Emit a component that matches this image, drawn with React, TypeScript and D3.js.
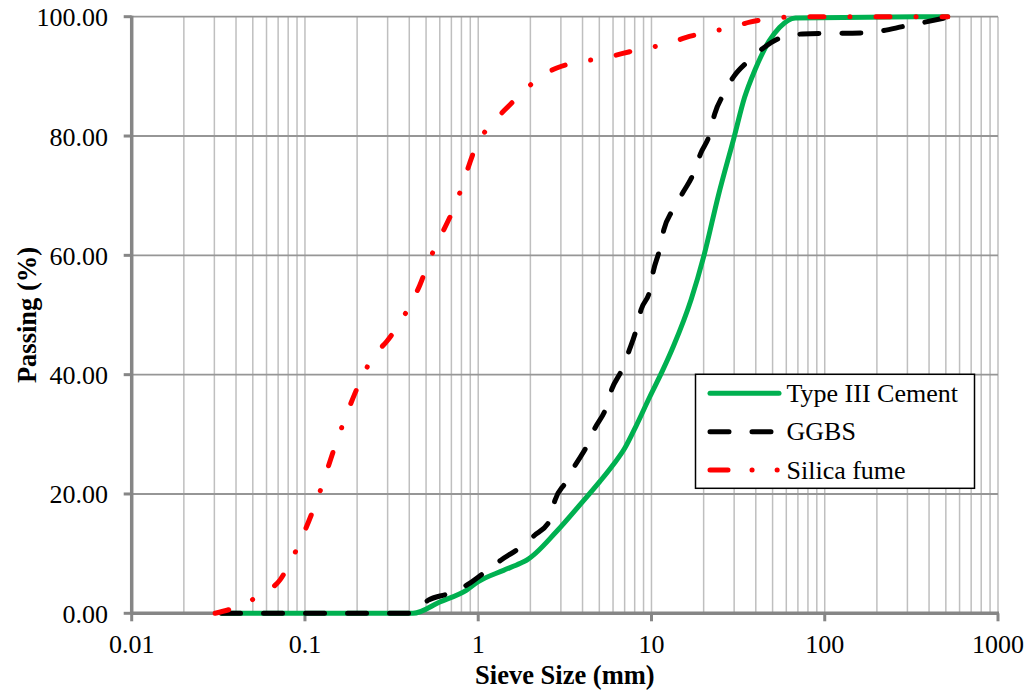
import React from "react";
import * as d3 from "d3";

const xTicks = [0.01, 0.1, 1, 10, 100, 1000];
const xTickLabels = ["0.01", "0.1", "1", "10", "100", "1000"];
const yTicks = [0, 20, 40, 60, 80, 100];
const yTickLabels = ["0.00", "20.00", "40.00", "60.00", "80.00", "100.00"];

const seriesNames = ["Type III Cement", "GGBS", "Silica fume"];

const cementSize = [0.033, 0.42, 0.6, 0.857, 1.0, 1.4, 1.75, 1.9, 2.83, 3.95, 5.04, 6.01, 7.02, 8.12, 9.78, 11.51, 13.4, 16.94, 20.1, 24.26, 29.92, 34.4, 39.6, 47.7, 54.8, 67.7, 513];
const cementPassing = [0, 0, 1.9, 3.9, 5.3, 7.2, 8.4, 8.9, 13.7, 18.5, 22.1, 24.9, 27.7, 31.3, 36.3, 40.5, 44.8, 52.6, 60.0, 69.9, 79.7, 86.4, 91.1, 95.9, 98.2, 99.8, 100];

const ggbsSize = [0.033, 0.41, 0.515, 0.671, 0.866, 1.069, 1.35, 1.7, 2.1, 2.59, 2.77, 3.19, 3.64, 4.23, 4.71, 5.46, 5.91, 6.74, 7.4, 8.12, 8.71, 9.79, 10.24, 11.15, 11.79, 13.24, 15.24, 17.52, 19.23, 21.61, 23.16, 26.03, 29.89, 36.0, 44.5, 56.2, 74.3, 172, 300, 513];
const ggbsPassing = [0, 0, 2.2, 3.3, 4.8, 6.7, 8.9, 10.8, 13.0, 15.6, 18.9, 21.9, 24.9, 28.0, 31, 34.4, 37.6, 40.8, 43.9, 47.3, 50.9, 54.2, 57.3, 61.0, 64.3, 67.6, 70.6, 73.8, 77.1, 80.2, 83.7, 87, 90, 92.5, 94.8, 96.5, 97.1, 97.3, 98.5, 99.9];

const silicaSize = [0.0303, 0.044, 0.0573, 0.0718, 0.083, 0.117, 0.155, 0.214, 0.247, 0.297, 0.353, 0.41, 0.46, 0.513, 0.743, 1.0, 1.2, 1.45, 1.8, 2.25, 2.84, 3.86, 5.17, 6.74, 9.03, 12.1, 15.7, 21.1, 28.6, 36.9, 50, 70, 513];
const silicaPassing = [0, 1.5, 3.4, 5.6, 8.8, 18.9, 29.4, 39.6, 43, 45.6, 48.7, 52, 55, 58.6, 68.7, 79, 82.1, 84.6, 87.3, 89.8, 91.4, 92.45, 93.0, 93.8, 94.7, 95.35, 96.5, 97.4, 98.15, 99.1, 99.7, 100, 100];

const W = 1032;
const H = 693;
const left = 131.7;
const right = 998;
const top = 16.7;
const bottom = 613.3;
const FONT = "'Liberation Serif', 'Times New Roman', serif";

export default function App() {
  const x = d3.scaleLog().domain([0.01, 1000]).range([left, right]);
  const y = d3.scaleLinear().domain([0, 100]).range([bottom, top]);

  const minor: number[] = [];
  for (let e = -2; e < 3; e++) {
    for (let m = 1; m <= 9; m++) minor.push(m * Math.pow(10, e));
  }
  minor.push(1000);

  const line = d3
    .line<[number, number]>()
    .x((d) => x(d[0]))
    .y((d) => y(d[1]))
    .curve(d3.curveMonotoneX);

  const zip = (a: number[], b: number[]) => a.map((v, i) => [v, b[i]] as [number, number]);

  const series = [
    { name: seriesNames[0], data: zip(cementSize, cementPassing), color: "#00b050", dash: "none", legendDash: "none" },
    { name: seriesNames[1], data: zip(ggbsSize, ggbsPassing), color: "#000000", dash: "19,23", legendDash: "19,23" },
    { name: seriesNames[2], data: zip(silicaSize, silicaPassing), color: "#ff0000", dash: "14,26,0.1,26", legendDash: "18,24,0.1,25,0.1,100" },
  ];

  const legX = 695.5;
  const legY = 374.3;
  const legW = 279;
  const legH = 114;
  const rowY = [393.3, 431.7, 470];

  return (
    <svg width={W} height={H} style={{ position: "absolute", left: 0, top: 0, background: "#fff" }} fontFamily={FONT}>
      <rect x={0} y={0} width={W} height={H} fill="#fff" />
      {minor.map((v, i) => (
        <line key={"vg" + i} x1={x(v)} x2={x(v)} y1={top} y2={bottom} stroke="#bfbfbf" strokeWidth={1.5} />
      ))}
      {yTicks.map((v, i) => (
        <line key={"hg" + i} x1={left} x2={right} y1={y(v)} y2={y(v)} stroke="#969696" strokeWidth={1.8} />
      ))}
      <line x1={left} x2={left} y1={top - 1} y2={bottom + 1} stroke="#868686" strokeWidth={3.5} />
      <line x1={left - 1} x2={right + 1} y1={bottom} y2={bottom} stroke="#868686" strokeWidth={3.5} />
      {yTicks.map((v, i) => (
        <line key={"yt" + i} x1={left - 8} x2={left} y1={y(v)} y2={y(v)} stroke="#868686" strokeWidth={3} />
      ))}
      {xTicks.map((v, i) => (
        <line key={"xt" + i} x1={x(v)} x2={x(v)} y1={bottom} y2={bottom + 8} stroke="#868686" strokeWidth={3} />
      ))}
      {yTicks.map((v, i) => (
        <text key={"yl" + i} x={108} y={y(v) + 9.5} textAnchor="end" fontSize={26} fill="#000">
          {yTickLabels[i]}
        </text>
      ))}
      {xTicks.map((v, i) => (
        <text key={"xl" + i} x={x(v)} y={652.7} textAnchor="middle" fontSize={26} fill="#000">
          {xTickLabels[i]}
        </text>
      ))}
      <text x={(left + right) / 2} y={684} textAnchor="middle" fontSize={26.5} fontWeight="bold" fill="#000">
        Sieve Size (mm)
      </text>
      <text transform={`translate(36, ${(top + bottom) / 2}) rotate(-90)`} textAnchor="middle" fontSize={26.5} fontWeight="bold" fill="#000">
        Passing (%)
      </text>
      {series.map((s, i) => (
        <path
          key={"s" + i}
          d={line(s.data) || ""}
          fill="none"
          stroke={s.color}
          strokeWidth={5}
          strokeDasharray={s.dash}
          strokeLinecap="round"
          strokeLinejoin="round"
        />
      ))}
      <rect x={legX} y={legY} width={legW} height={legH} fill="#fff" stroke="#000" strokeWidth={1.5} />
      {series.map((s, i) => (
        <g key={"lg" + i}>
          <line
            x1={710}
            x2={779}
            y1={rowY[i]}
            y2={rowY[i]}
            stroke={s.color}
            strokeWidth={5}
            strokeDasharray={s.legendDash}
            strokeLinecap="round"
          />
          <text x={786.5} y={rowY[i] + 8.5} fontSize={26} fill="#000">
            {s.name}
          </text>
        </g>
      ))}
    </svg>
  );
}
